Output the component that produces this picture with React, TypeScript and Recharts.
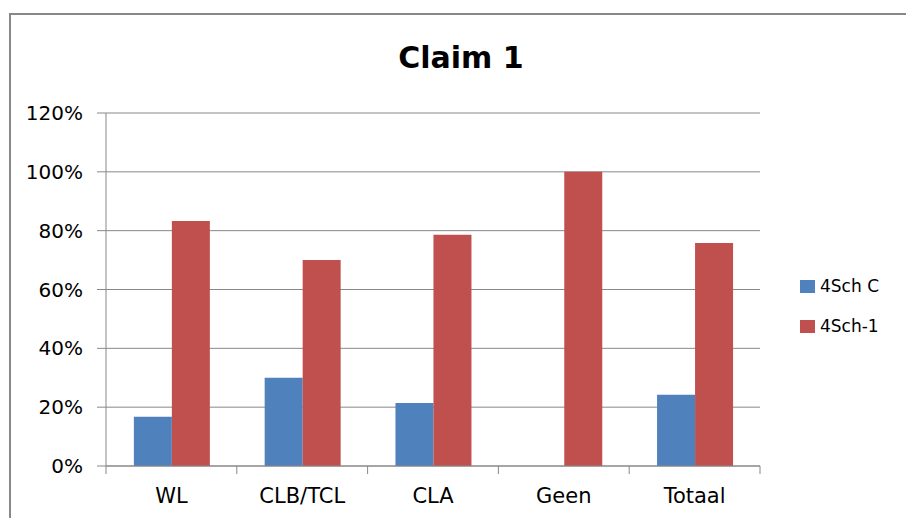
import { Bar, BarChart, CartesianGrid, Legend, XAxis, YAxis } from "recharts"

const categories = ["WL", "CLB/TCL", "CLA", "Geen", "Totaal"]
const series4SchC = [16.7, 30, 21.4, 0, 24.2]
const series4Sch1 = [83.3, 70, 78.6, 100, 75.8]
const seriesNames = ["4Sch C", "4Sch-1"]
const seriesColors = ["#4F81BD", "#C0504D"]
const yTicks = [0, 20, 40, 60, 80, 100, 120]

const data = categories.map((name, i) => ({
  name,
  c: series4SchC[i],
  one: series4Sch1[i],
}))

const FONT = "'DejaVu Sans', sans-serif"
const GRID = "#888888"

// category label plus Excel-style tick marks on the category boundaries
function CategoryTick(props: any) {
  const { x, y, payload, index, visibleTicksCount, width } = props
  const half = payload?.offset || width / visibleTicksCount / 2
  return (
    <g>
      <line x1={x - half} x2={x - half} y1={y} y2={y + 8} stroke={GRID} />
      {index === visibleTicksCount - 1 && (
        <line x1={x + half} x2={x + half} y1={y} y2={y + 8} stroke={GRID} />
      )}
      <text x={x} y={y + 37} textAnchor="middle" fill="#000" fontSize={21} fontFamily={FONT}>
        {payload.value}
      </text>
    </g>
  )
}

function LegendBox() {
  return (
    <div style={{ fontFamily: FONT, fontSize: 17, color: "#000" }}>
      {seriesNames.map((n, i) => (
        <div key={n} style={{ display: "flex", alignItems: "center", height: 26, marginBottom: 14 }}>
          <span style={{ width: 15, height: 13, background: seriesColors[i], display: "inline-block", marginRight: 5 }} />
          <span>{n}</span>
        </div>
      ))}
    </div>
  )
}

export default function App() {
  return (
    <div style={{ position: "absolute", left: 0, top: 0, width: 906, height: 518, background: "#fff", overflow: "hidden" }}>
      <div
        style={{
          position: "absolute",
          left: 9,
          top: 13,
          width: 940,
          height: 540,
          borderLeft: "2px solid #888",
          borderTop: "2px solid #888",
        }}
      />
      <div
        style={{
          position: "absolute",
          left: 0,
          top: 43,
          width: 922,
          textAlign: "center",
          fontFamily: FONT,
          fontWeight: "bold",
          fontSize: 30,
          lineHeight: "30px",
          color: "#000",
        }}
      >
        Claim 1
      </div>
      <BarChart
        width={906}
        height={518}
        data={data}
        margin={{ top: 113, right: 146, left: 0, bottom: 0 }}
        barCategoryGap="21.3%"
        barGap={0}
        style={{ position: "absolute", left: 0, top: 0 }}
      >
        <CartesianGrid vertical={false} stroke={GRID} />
        <XAxis
          dataKey="name"
          height={52}
          tickSize={0}
          tickMargin={0}
          tickLine={false}
          axisLine={{ stroke: GRID }}
          tick={<CategoryTick />}
          interval={0}
        />
        <YAxis
          width={106}
          domain={[0, 120]}
          ticks={yTicks}
          tickFormatter={(v) => `${v}%`}
          tickSize={9}
          tickMargin={14}
          tickLine={{ stroke: GRID }}
          axisLine={{ stroke: GRID }}
          tick={{ fill: "#000", fontSize: 20, fontFamily: FONT }}
        />
        <Legend
          layout="vertical"
          align="center"
          verticalAlign="middle"
          content={<LegendBox />}
          wrapperStyle={{ left: 800, top: 273, width: 100, height: 80 }}
        />
        <Bar dataKey="c" name={seriesNames[0]} fill={seriesColors[0]} isAnimationActive={false} />
        <Bar dataKey="one" name={seriesNames[1]} fill={seriesColors[1]} isAnimationActive={false} />
      </BarChart>
    </div>
  )
}
